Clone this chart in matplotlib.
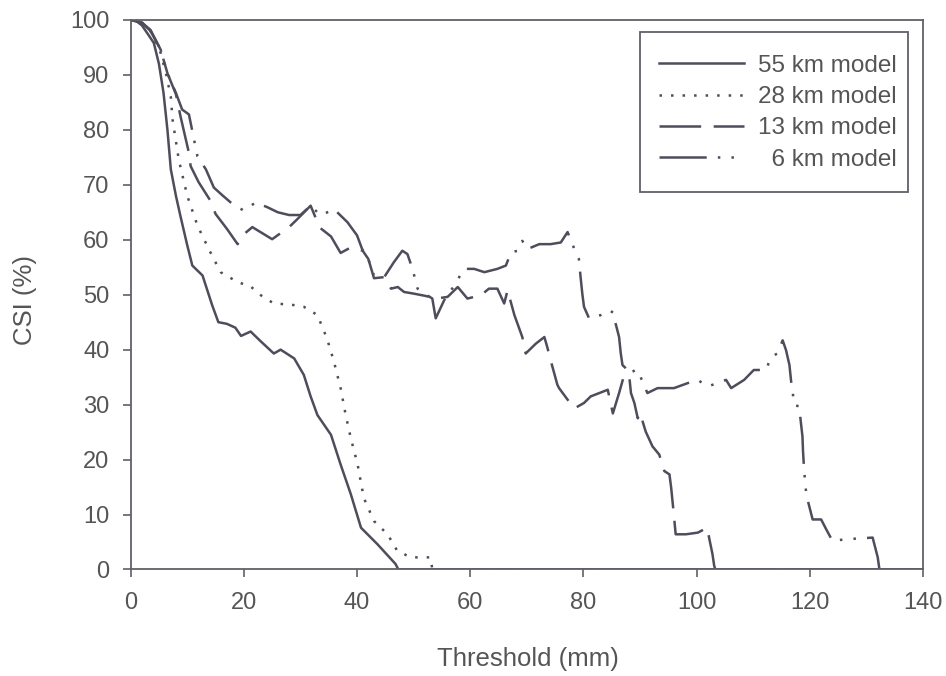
import matplotlib
matplotlib.use("Agg")
import matplotlib.pyplot as plt
from matplotlib.patches import Rectangle

plt.rcParams['font.family'] = ['Liberation Sans', 'DejaVu Sans']
plt.rcParams['lines.scale_dashes'] = False

# ---- data ----
x55 = [0, 1, 2, 3, 4.1, 5, 5.8, 6.5, 7.1, 8, 8.8, 10, 10.9, 12.7, 14.4, 15.5, 17, 18.5, 19.5,
       21.2, 23, 25.3, 26.5, 28.9, 30.6, 31.8, 33, 35.4, 37.1, 38.9, 40.7, 43.6, 46.8, 47.3, 140]
y55 = [100, 99.8, 99, 97.5, 95.8, 92, 86.8, 80, 72.8, 68, 64.3, 59, 55.3, 53.5, 48.1, 45, 44.7, 44, 42.5,
       43.3, 41.5, 39.3, 40, 38.4, 35.4, 31.5, 28.1, 24.5, 19.1, 13.7, 7.6, 4.6, 1, 0, 0]

x28 = [0, 2, 3.5, 5.3, 6.3, 7.1, 7.4, 8.5, 10, 11.8, 13.8, 15.9, 18.9, 21.2, 23, 25.3, 28.3, 30.6,
       33, 34.7, 35.9, 37.1, 38, 38.9, 40.1, 41.2, 43, 45.4, 47.1, 49.5, 51.8, 53, 53.3, 140]
y28 = [100, 99.5, 98, 94, 90, 86, 81.9, 74.6, 68, 62.6, 58.3, 54.1, 52.3, 51.5, 49.9, 48.4, 48.2, 47.8,
       46.3, 42, 37.9, 33, 28.1, 23.9, 19.1, 13, 8.8, 6.4, 3.4, 2.2, 2.2, 2.2, 0, 0]

x13 = [0, 2, 3.5, 5.3, 6.5, 8, 8.8, 10.3, 10.6, 12, 14.1, 15, 17, 18.9, 20, 21.5, 25, 28, 29.5, 31.8,
       33, 33.3, 35.4, 37.1, 38.9, 41, 42, 43, 44.8, 46, 47.2, 48.3, 50, 52, 54, 56, 57.8, 59.5, 61.9,
       63.3, 64.8, 66, 66.6, 67.8, 69.2, 69.8, 71.6, 73.1, 73.6, 74.2, 75.4, 75.7, 77.2, 78.4, 80.1,
       81.3, 82.8, 84.3, 85.2, 86.3, 87.2, 88.1, 88.4, 89, 89.6, 90, 91, 92.2, 93.4, 94.3, 95.2, 95.5,
       95.8, 96.3, 98.1, 100.2, 101.9, 102.2, 102.8, 103.1, 103.3, 140]
y13 = [100, 99.5, 98, 94.6, 90.3, 86.5, 82.5, 75.8, 73.4, 70.5, 67.1, 64.7, 62, 59.2, 61, 62.3, 60.1,
       62.3, 63.8, 66.2, 63.2, 62.3, 60.6, 57.6, 58.6, 58, 56.5, 53, 53.2, 51.1, 51.4, 50.5, 50.2, 49.8,
       49.3, 49.6, 51.4, 49.3, 49.9, 51.1, 51.1, 48.4, 50.8, 46.3, 42.3, 39.3, 41.1, 42.3, 40.5, 38.1,
       33.6, 33, 30.9, 29.3, 30.3, 31.5, 32.1, 32.7, 28.4, 32.1, 35.4, 35.1, 32.1, 30.3, 27.5, 28.5,
       25.1, 22.4, 20.9, 17.9, 17.3, 14.9, 11.8, 6.4, 6.4, 6.7, 7.6, 5.8, 2.8, 0.7, 0, 0]

x6 = [0, 2, 3.5, 5.3, 6.5, 8, 9.1, 10.3, 11.8, 13.3, 14.7, 16.2, 18, 20, 22.1, 24.2, 26, 28, 30,
      31.8, 33.6, 35.9, 38.3, 40, 40.9, 41.8, 43, 44.8, 46.5, 48, 48.9, 49.8, 50.7, 52.4, 53.3, 53.9,
      55.4, 57.2, 58.9, 60.7, 62.5, 64.8, 66.3, 67.2, 68.4, 69.2, 70.1, 72.2, 74.2, 76, 77.2, 78.4,
      79.2, 79.5, 79.8, 80.1, 81, 83.1, 84.6, 85.4, 85.7, 86.3, 86.6, 86.9, 87.8, 88.4, 89.3, 89.8,
      90.7, 91.3, 93.1, 96, 98.4, 100.2, 101.9, 103.7, 105.2, 106.1, 108.4, 110.1, 112.3, 113.1,
      114.3, 115.2, 115.8, 116.4, 116.7, 117, 117.2, 118.1, 118.7, 118.8, 119, 119.3, 119.6, 120.5,
      122, 122.9, 124, 126.4, 131.1, 132, 132.3, 140]
y6 = [100, 99.5, 98.2, 94.6, 90.3, 86.7, 83.7, 82.8, 75.2, 72.8, 69.5, 68.1, 66.5, 65.3, 66.8, 65.9,
      65, 64.5, 64.5, 66.2, 64.4, 65.6, 63.2, 60.8, 58.3, 57, 53.5, 53.2, 55.9, 58, 57.4, 54.7, 51.1,
      49.9, 49.3, 45.7, 49, 51.7, 54.7, 54.7, 54.1, 54.7, 55.3, 57.7, 58, 59.8, 58.3, 59.2, 59.2, 59.5,
      61.4, 58.3, 56.5, 53.2, 50.2, 47.8, 45.7, 46.3, 47.2, 46.6, 44.7, 42.3, 39.3, 37.2, 36.3, 36.9,
      35.4, 35.7, 33.6, 32.1, 33, 33, 33.9, 34.5, 33.3, 33.9, 34.5, 33, 34.5, 36.3, 36.3, 38.7, 39.3,
      41.7, 39.9, 37.2, 34.2, 32.1, 29.9, 29.7, 24.2, 21.5, 18, 14.5, 12.7, 9.1, 9.1, 7.3, 5.2, 5.5,
      5.8, 2.2, 0, 0]

labels = ['55 km model', '28 km model', '13 km model', '\u20076 km model']
xticks = [0, 20, 40, 60, 80, 100, 120, 140]
yticks = [0, 10, 20, 30, 40, 50, 60, 70, 80, 90, 100]

# ---- drawing ----
line_col = '#4d4d5c'
text_col = '#555555'
spine_col = '#606068'

fig = plt.figure(figsize=(9.46, 6.76), dpi=100)
ax = fig.add_axes([0.1381, 0.1576, 0.8376, 0.8129])

lw = 1.8
ax.plot(x55, y55, color=line_col, lw=lw, linestyle='-', label=labels[0])
ax.plot(x28, y28, color=line_col, lw=lw, linestyle=(0, (1.8, 6.5)), label=labels[1])
ax.plot(x13, y13, color=line_col, lw=lw, linestyle=(0, (30, 9)), label=labels[2])
ax.plot(x6, y6, color=line_col, lw=lw, linestyle=(0, (34, 8, 1.8, 8, 1.8, 8)), label=labels[3])

ax.set_xlim(0, 140)
ax.set_ylim(0, 100)
ax.set_xticks(xticks)
ax.set_yticks(yticks)

for s in ax.spines.values():
    s.set_color(spine_col)
    s.set_linewidth(1.3)

ax.tick_params(axis='both', direction='out', length=5.8, width=1.2, colors=spine_col,
               labelcolor=text_col, labelsize=17)
ax.tick_params(axis='y', pad=9.5)
ax.tick_params(axis='x', pad=10.5)
ax.tick_params(top=False, right=False)

ax.set_xlabel('Threshold (mm)', fontsize=18.5, color=text_col)
ax.set_ylabel('CSI (%)', fontsize=18.5, color=text_col)
ax.xaxis.set_label_coords(0.502, -0.142)
ax.yaxis.set_label_coords(-0.118, 0.49)

# legend entries (frame drawn separately so padding can match the reference)
leg = ax.legend(loc='upper right', bbox_to_anchor=(0.9672, 0.9363), fontsize=17.5,
                frameon=False, handlelength=3.5, handletextpad=0.6,
                labelspacing=0.38, borderpad=0, borderaxespad=0)
for t in leg.get_texts():
    t.set_color(text_col)
ax.add_patch(Rectangle((0.6429, 0.687), 0.9811 - 0.6429, 0.9782 - 0.687,
                       transform=ax.transAxes, fill=False, edgecolor=spine_col,
                       linewidth=1.3, zorder=5, clip_on=False))

fig.savefig('out.png', dpi=100)
